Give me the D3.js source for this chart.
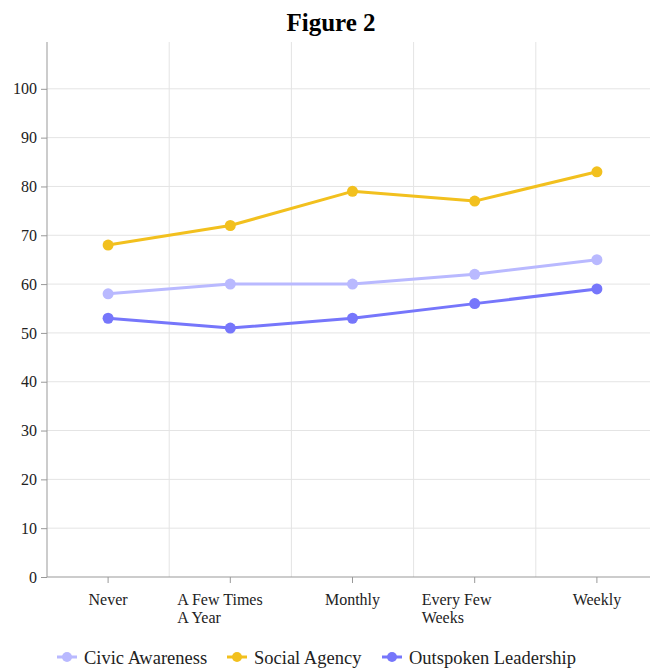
<!DOCTYPE html>
<html>
<head>
<meta charset="utf-8">
<script src="https://cdn.jsdelivr.net/npm/d3@7"></script>
<style>
  html, body { margin: 0; padding: 0; background: #fff; }
  svg { display: block; }
  text { font-family: "Liberation Serif", "Times New Roman", serif; fill: #222; }
</style>
</head>
<body>
<script>
const categories = [["Never"], ["A Few Times", "A Year"], ["Monthly"], ["Every Few", "Weeks"], ["Weekly"]];
const seriesNames = ["Civic Awareness", "Social Agency", "Outspoken Leadership"];
const civicAwareness = [58, 60, 60, 62, 65];
const socialAgency = [68, 72, 79, 77, 83];
const outspokenLeadership = [53, 51, 53, 56, 59];
const yTicks = [0, 10, 20, 30, 40, 50, 60, 70, 80, 90, 100];
const colors = ["#b9b9ff", "#f2c01e", "#7676fb"];

const series = [civicAwareness, socialAgency, outspokenLeadership];
const W = 650, H = 668;
const mLeft = 47, mRight = 658, mTop = 40, mBottom = 577;

const svg = d3.select("body").append("svg").attr("width", W).attr("height", H);

const catKeys = categories.map(c => c.join(" "));
const x = d3.scaleBand().domain(catKeys).range([mLeft, mRight]).padding(0);
const y = d3.scaleLinear().domain([0, 110]).range([mBottom, mTop]);

// title
svg.append("text").attr("x", 331).attr("y", 31).attr("text-anchor", "middle")
  .style("font-size", "25px").style("font-weight", "bold").style("fill", "#000").text("Figure 2");

// horizontal gridlines
svg.append("g").selectAll("line").data(yTicks.filter(d => d > 0)).join("line")
  .attr("x1", mLeft).attr("x2", W).attr("y1", d => y(d)).attr("y2", d => y(d))
  .attr("stroke", "#e4e4e4").attr("stroke-width", 1);

// vertical gridlines at band boundaries
svg.append("g").selectAll("line").data(catKeys.slice(1)).join("line")
  .attr("x1", d => x(d)).attr("x2", d => x(d)).attr("y1", mTop + 2).attr("y2", mBottom)
  .attr("stroke", "#e4e4e4").attr("stroke-width", 1);

// y axis
const yAxis = d3.axisLeft(y).tickValues(yTicks).tickSize(6).tickPadding(4);
const gy = svg.append("g").attr("transform", `translate(${mLeft},0)`).call(yAxis)
  .attr("font-family", null).attr("font-size", null);
gy.select(".domain").attr("d", `M0,${mTop + 2}V${mBottom}`).attr("stroke", "#999");
gy.selectAll(".tick line").attr("stroke", "#999");
gy.selectAll(".tick text").style("font-size", "16px").style("font-family", "'Liberation Serif', serif").attr("fill", "#222");

// x axis
const xAxis = d3.axisBottom(x).tickSize(6).tickFormat("");
const gx = svg.append("g").attr("transform", `translate(0,${mBottom})`).call(xAxis);
gx.select(".domain").attr("d", `M${mLeft},0H${W}`).attr("stroke", "#999");
gx.selectAll(".tick line").attr("stroke", "#999");

// x labels
const xl = svg.append("g");
categories.forEach((lines, i) => {
  const cx = x(catKeys[i]) + x.bandwidth() / 2;
  const t = xl.append("text").style("font-size", "16px")
    .attr("text-anchor", lines.length > 1 ? "start" : "middle");
  lines.forEach((ln, j) => {
    t.append("tspan").attr("x", lines.length > 1 ? cx - 53 : cx).attr("y", 605 + j * 18).text(ln);
  });
});

// lines
const line = d3.line().x((d, i) => x(catKeys[i]) + x.bandwidth() / 2).y(d => y(d));
series.forEach((s, k) => {
  svg.append("path").datum(s).attr("d", line).attr("fill", "none")
    .attr("stroke", colors[k]).attr("stroke-width", 3).attr("stroke-linejoin", "round");
  svg.append("g").selectAll("circle").data(s).join("circle")
    .attr("cx", (d, i) => x(catKeys[i]) + x.bandwidth() / 2).attr("cy", d => y(d))
    .attr("r", 5.5).attr("fill", colors[k]);
});

// legend
const legendX = [57, 227, 382];
seriesNames.forEach((name, k) => {
  const g = svg.append("g").attr("transform", `translate(${legendX[k]},657)`);
  g.append("line").attr("x1", 0).attr("x2", 20).attr("y1", 0).attr("y2", 0)
    .attr("stroke", colors[k]).attr("stroke-width", 3);
  g.append("circle").attr("cx", 10).attr("cy", 0).attr("r", 5).attr("fill", colors[k]);
  g.append("text").attr("x", 27).attr("y", 6.5).style("font-size", "18.5px").text(name);
});
</script>
</body>
</html>
